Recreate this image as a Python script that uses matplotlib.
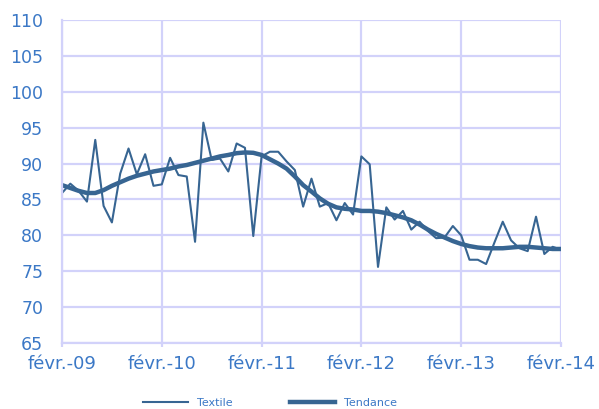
import matplotlib
matplotlib.use("Agg")
from matplotlib import pyplot as plt

# monthly index, févr. 2009 -> févr. 2014
months = list(range(61))
tick_pos = [0, 12, 24, 36, 48, 60]
tick_labels = ["févr.-09", "févr.-10", "févr.-11", "févr.-12", "févr.-13", "févr.-14"]

textile = [85.9, 87.2, 86.2, 84.7, 93.3, 84.1, 81.8, 88.6, 92.1, 88.5,
           91.3, 86.9, 87.1, 90.8, 88.4, 88.2, 79.1, 95.7, 90.5, 90.7,
           88.9, 92.8, 92.2, 79.9, 91.0, 91.65, 91.65, 90.3, 89.1, 84.0,
           87.9, 84.0, 84.5, 82.1, 84.5, 82.9, 91.0, 89.9, 75.6, 83.9,
           82.2, 83.4, 80.8, 81.9, 80.6, 79.6, 79.7, 81.3, 80.0, 76.6,
           76.6, 76.0, 79.0, 81.9, 79.3, 78.2, 77.8, 82.6, 77.4, 78.4,
           78.0]

tendance = [87.0, 86.6, 86.2, 85.9, 85.9, 86.3, 86.9, 87.4, 87.9, 88.3,
            88.6, 88.9, 89.1, 89.3, 89.6, 89.8, 90.1, 90.4, 90.7, 91.0,
            91.2, 91.45, 91.55, 91.5, 91.2, 90.6, 90.0, 89.3, 88.2, 87.0,
            86.1, 85.15, 84.4, 83.9, 83.7, 83.6, 83.4, 83.4, 83.3, 83.1,
            82.8, 82.5, 82.1, 81.5, 80.8, 80.2, 79.7, 79.2, 78.8, 78.5,
            78.3, 78.2, 78.2, 78.2, 78.3, 78.4, 78.4, 78.3, 78.2, 78.1,
            78.1]

line_col = "#376592"
grid_col = "#d2d2fa"
text_col = "#3b78c6"

plt.rcParams['font.family'] = ['DejaVu Sans']

fig = plt.figure(figsize=(5.99, 4.09), dpi=100)
ax = fig.add_axes([0.1035, 0.1614, 0.833, 0.7896])

ax.plot(months, textile, color=line_col, lw=1.5, label="Textile")
ax.plot(months, tendance, color=line_col, lw=3.2, solid_capstyle='projecting',
        label="Tendance")

ax.set_xlim(0, 60)
ax.set_ylim(65, 110)
ax.set_yticks(range(65, 111, 5))
ax.set_xticks(tick_pos)
ax.set_xticklabels(tick_labels)

ax.set_axisbelow(True)
ax.grid(color=grid_col, lw=1.6)
for s in ax.spines.values():
    s.set_color(grid_col)
    s.set_linewidth(1.6)
ax.spines['right'].set_visible(False)
ax.spines['top'].set_visible(False)
ax.tick_params(axis='x', colors=grid_col, length=3, width=1.6, labelcolor=text_col,
               labelsize=13, pad=6)
ax.tick_params(axis='y', length=0, labelcolor=text_col, labelsize=12.5, pad=13.5)

fig.legend(loc='center', bbox_to_anchor=(270 / 599, 1 - 403 / 409), ncol=2,
           frameon=False, fontsize=8, handlelength=4.0, handletextpad=0.8,
           columnspacing=5.2, labelcolor=text_col)

fig.savefig("out.png", dpi=100)
